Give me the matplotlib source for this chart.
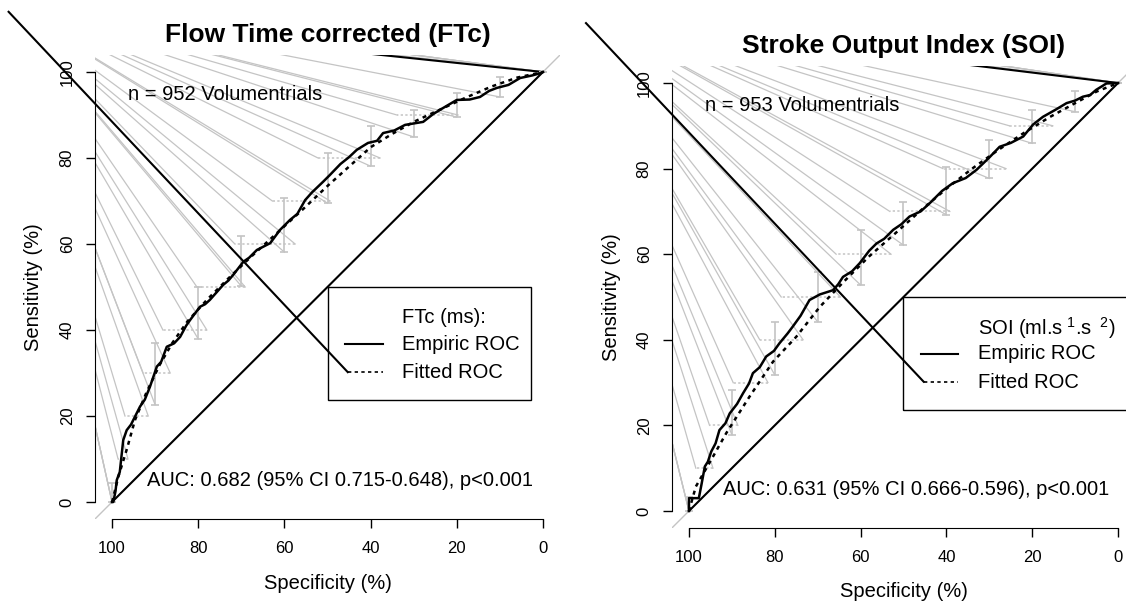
import matplotlib
matplotlib.use('Agg')
import matplotlib.pyplot as plt
import matplotlib.patches as mpatches

plt.rcParams['font.family'] = ['Liberation Sans', 'DejaVu Sans']
plt.rcParams['mathtext.fontset'] = 'custom'
plt.rcParams['mathtext.rm'] = 'Liberation Sans'

# --- data ---
ticks = [100, 80, 60, 40, 20, 0]
spec_levels = [100, 90, 80, 70, 60, 50, 40, 30, 20, 10, 0]
sens_levels = [0, 10, 20, 30, 40, 50, 60, 70, 80, 90, 100]

# Flow Time corrected (FTc)
ftc_emp_sp = [100, 99.7, 99.2, 98.9, 98.2, 97.4, 96.6, 95.6, 93.5, 92.4, 91.2, 89.6, 88.6,
              87.3, 85.6, 84.2, 82.8, 81.9, 79.6, 78.4, 77.3, 74.2, 73.0, 71.9, 69.5, 68.2,
              66.4, 63.3, 61.0, 58.7, 57.0, 55.2, 53.6, 51.0, 49.5, 47.0, 45.0, 43.2, 40.6,
              38.5, 37.1, 34.5, 32.0, 27.8, 25.5, 23.9, 20.0, 17.0, 14.6, 12.5, 10.7, 8.0,
              5.3, 2.5, 0.7, 0]
ftc_emp_se = [0, 0, 2.5, 5.1, 7.0, 14.4, 16.7, 18.0, 22.2, 23.8, 26.8, 31.5, 32.6,
              36.1, 36.9, 38.4, 41.0, 42.3, 45.4, 46.0, 47.0, 50.5, 51.5, 52.8, 55.9, 56.8,
              58.6, 60.2, 63.3, 65.6, 67.0, 70.2, 72.0, 74.5, 76.0, 78.6, 80.2, 81.9, 83.5,
              84.0, 85.8, 86.4, 87.7, 88.4, 90.2, 91.2, 93.5, 93.6, 94.2, 95.6, 96.3, 97.0,
              98.6, 99.2, 99.7, 100]
ftc_fit_sp = [100, 98.5, 96.5, 94.7, 92, 89, 86, 82.5, 78, 73, 68, 62, 56, 50, 45, 40, 35,
              30, 24, 18, 12, 6, 0]
ftc_fit_se = [0, 6, 12.5, 19, 25.5, 31.8, 37, 42, 47, 52, 56.8, 62.3, 67.8, 73.5, 78, 82.5,
              85.6, 88.4, 91.2, 94.0, 96.6, 98.7, 100]
ftc_se_lo = [0, 22.6, 37.9, 50.2, 58.1, 69.5, 78.1, 84.9, 89.5, 94.2, 100]
ftc_se_hi = [4.4, 37.0, 50.0, 61.9, 70.7, 81.2, 87.4, 91.2, 95.1, 98.8, 100]
ftc_sp_lo = [100, 96.3, 91.6, 86.5, 78.0, 69.1, 57.5, 49.4, 37.8, 19.7, 0]
ftc_sp_hi = [100, 98.6, 97.0, 92.8, 88.2, 80.3, 71.5, 62.8, 52.2, 33.9, 0]

# Stroke Output Index (SOI)
soi_emp_sp = [100, 100, 97.7, 97.1, 96.3, 95.6, 94.8, 93.8, 92.9, 91.5, 90.5, 88.8, 87.4,
              86.0, 85.1, 83.5, 82.0, 80.2, 78.9, 77.0, 75.8, 74.0, 71.9, 69.5, 66.4, 65.2,
              64.1, 62.0, 60.2, 58.0, 56.3, 54.5, 52.4, 50.5, 48.6, 46.0, 43.9, 41.0, 38.5,
              35.5, 33.0, 30.0, 27.6, 25.0, 22.1, 19.8, 17.5, 14.5, 12.0, 10.0, 8.2, 6.5,
              5.1, 2.7, 0]
soi_emp_se = [0, 3.0, 3.0, 6.1, 10.4, 11.5, 13.9, 15.8, 18.9, 20.5, 22.8, 25.0, 27.5,
              29.8, 32.2, 33.6, 36.1, 37.4, 39.2, 41.5, 43.1, 45.6, 49.3, 50.6, 51.6, 53.0,
              54.7, 56.0, 57.9, 60.8, 62.5, 63.6, 65.7, 67.0, 68.8, 70.0, 71.9, 74.8, 76.6,
              77.8, 79.7, 82.6, 85.1, 86.0, 87.5, 90.3, 92.1, 93.8, 95.3, 95.9, 96.8, 97.2,
              98.4, 99.9, 100]
soi_fit_sp = [100, 98.4, 94.4, 91.3, 85.9, 80.4, 75, 69.5, 64, 58, 52, 46, 40, 34, 28, 22,
              16, 10, 5, 0]
soi_fit_se = [0, 5.7, 12.7, 18.2, 26.7, 34.9, 40.7, 47.7, 53.5, 59.5, 64.8, 70.2, 75.3, 80,
              84.3, 88.3, 92, 95.3, 98, 100]
soi_se_lo = [0, 17.8, 31.8, 44.2, 52.8, 62.1, 69.2, 77.7, 85.9, 93.3, 100]
soi_se_hi = [3.3, 28.3, 44.2, 55.8, 65.7, 72.3, 80.4, 86.8, 93.7, 98.1, 100]
soi_sp_lo = [100, 94.4, 88.6, 81.6, 73.4, 64.7, 52.9, 39.2, 26.1, 15.2, 0]
soi_sp_hi = [100, 98.4, 95.2, 89.7, 83.5, 78.5, 65.7, 53.2, 40.8, 25.3, 0]

grey = '#c4c4c4'
fs = 14.5


def draw_panel(ax, title, n_text, auc_text, leg_title, emp_sp, emp_se, fit_sp, fit_se,
               se_lo, se_hi, sp_lo, sp_hi, origin, top_origin, box_right):
    ax.set_xlim(104, -4)
    ax.set_ylim(-4, 104)
    for s in ['top', 'right']:
        ax.spines[s].set_visible(False)
    ax.spines['left'].set_bounds(0, 100)
    ax.spines['bottom'].set_bounds(0, 100)
    ax.set_xticks(ticks, labels=[str(t) for t in ticks], fontsize=12)
    ax.set_yticks(ticks, labels=[str(t) for t in ticks], fontsize=12, rotation=90, va='center')
    ax.tick_params(length=6.5, width=1, pad=9)
    ax.tick_params(axis='y', pad=8)

    # stray lines of the original export, clipped to the plot region
    for lo, hi, s in zip(sp_lo, sp_hi, sens_levels):
        for x in (lo, hi):
            ax.plot([origin[0], x], [origin[1], s], color=grey, lw=0.9, zorder=1)
    for sp, lo in zip(spec_levels, se_lo):
        ax.plot([origin[0], sp], [origin[1], lo], color=grey, lw=0.9, zorder=1)
    ax.plot([top_origin[0], 0], [top_origin[1], 100], color=grey, lw=1.0, zorder=1)
    ax.plot([top_origin[0], 0], [top_origin[1] - 1.2, 100], color='black', lw=1.5, zorder=2)

    # chance line
    ax.plot([104, -4], [-4, 104], color=grey, lw=1, zorder=1)
    ax.plot([100, 0], [0, 100], color='black', lw=1.5, zorder=3)

    # confidence intervals
    mid = [(a + b) / 2 for a, b in zip(se_lo, se_hi)]
    half = [(b - a) / 2 for a, b in zip(se_lo, se_hi)]
    ax.errorbar(spec_levels, mid, yerr=half, fmt='none', ecolor=grey, elinewidth=1.2,
                capsize=3, capthick=1.2, zorder=2)
    ax.hlines(sens_levels, sp_lo, sp_hi, colors=grey, linestyles=(0, (1.5, 1.5)), lw=1.1,
              zorder=2)

    ax.plot(emp_sp, emp_se, color='black', lw=1.8, zorder=4)
    ax.plot(fit_sp, fit_se, color='black', lw=1.8, ls=(0, (1.6, 1.8)), zorder=4)

    ax.text(96.3, 94.7, n_text, fontsize=fs, va='center', ha='left')
    ax.text(92, 5, auc_text, fontsize=fs, va='center', ha='left')
    ax.text(0.5, 1.028, title, transform=ax.transAxes, ha='center', va='baseline',
            fontsize=19, fontweight='bold')
    ax.text(-0.131, 0.5, 'Sensitivity (%)', transform=ax.transAxes, rotation=90,
            ha='center', va='center', fontsize=fs)
    ax.text(0.5, -0.138, 'Specificity (%)', transform=ax.transAxes, ha='center',
            va='center', fontsize=fs)

    # legend drawn as in the original
    box = mpatches.Rectangle((50, 23.7), box_right - 50, 26.3, fill=False, ec='black',
                             lw=1, clip_on=False, zorder=5)
    ax.add_patch(box)
    ax.text(32.7, 42.8, leg_title, fontsize=fs, va='center', ha='left')
    ax.text(32.7, 36.7, 'Empiric ROC', fontsize=fs, va='center', ha='left')
    ax.text(32.7, 30.0, 'Fitted ROC', fontsize=fs, va='center', ha='left')
    ax.plot([46, 37.2], [36.7, 36.7], color='black', lw=1.5, clip_on=False)
    ax.plot([45.3, 37.2], [30.2, 30.2], color='black', lw=1.2, ls=(0, (2, 2)), clip_on=False)
    ax.plot([124, 45.3], [114, 30.2], color='black', lw=1.5, clip_on=False, zorder=3)


fig = plt.figure(figsize=(11.26, 6.01), dpi=100)
W, H = 1126, 601
ax1 = fig.add_axes([94.8 / W, (H - 519.2) / H, (560.2 - 94.8) / W, (519.2 - 54.8) / H])
ax2 = fig.add_axes([671.8 / W, (H - 528.1) / H, (1135.2 - 671.8) / W, (528.1 - 65.9) / H])

draw_panel(ax1, 'Flow Time corrected (FTc)', 'n = 952 Volumentrials',
           'AUC: 0.682 (95% CI 0.715-0.648), p<0.001', 'FTc (ms):',
           ftc_emp_sp, ftc_emp_se, ftc_fit_sp, ftc_fit_se,
           ftc_se_lo, ftc_se_hi, ftc_sp_lo, ftc_sp_hi, (126, 116.7), (126, 114.5), 2.8)
draw_panel(ax2, 'Stroke Output Index (SOI)', 'n = 953 Volumentrials',
           'AUC: 0.631 (95% CI 0.666-0.596), p<0.001',
           r'SOI (ml.s$^{\mathregular{\ 1}}$.s$^{\mathregular{\ \ 2}}$)',
           soi_emp_sp, soi_emp_se, soi_fit_sp, soi_fit_se,
           soi_se_lo, soi_se_hi, soi_sp_lo, soi_sp_hi, (129.4, 119.4), (129.4, 117.0), -5)

fig.savefig('out.png', dpi=100)
